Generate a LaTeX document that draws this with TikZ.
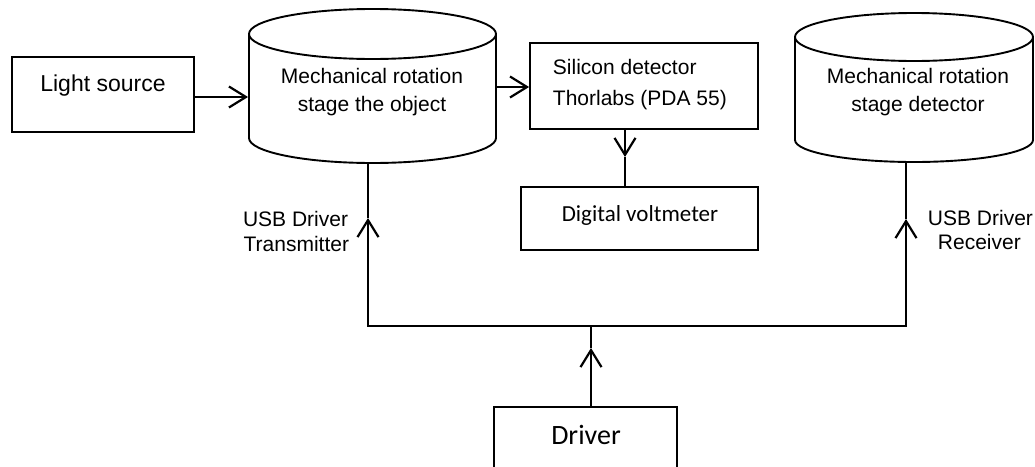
\documentclass[tikz,border=0pt]{standalone}
\usepackage{fontspec}
\setmainfont{Liberation Sans}
\newfontfamily\calib{Carlito}
\usetikzlibrary{arrows.meta,calc}
\begin{document}
\begin{tikzpicture}[x=1pt,y=-1pt,line width=1.9pt,
  box/.style={draw,line width=1.8pt,inner sep=0pt},
  ghost/.style={inner sep=0pt},
  lbl/.style={font=\fontsize{21}{25}\selectfont,inner sep=0pt},
  barb/.tip={Straight Barb[length=17pt,width=21pt,line width=2.2pt]},
  arr/.style={-barb}]
\useasboundingbox (0,0) rectangle (1035,466);
\clip (0,0) rectangle (1035,466);

% boxes
\node[box,minimum width=182pt,minimum height=75pt] (light) at (103,94.5) {};
\node[box,minimum width=228pt,minimum height=86pt] (sil) at (644,86) {};
\node[box,minimum width=237pt,minimum height=63pt] (volt) at (639.5,218.5) {};
\node[box,minimum width=183pt,minimum height=93pt] (driver) at (585.5,453.5) {};

% cylinders
\node[ghost,minimum width=247pt,minimum height=154pt] (cyl1) at (372.5,86) {};
\draw (249,34) -- (249,138) arc[start angle=180,end angle=360,x radius=123.5pt,y radius=25pt] -- (496,34);
\draw (372.5,34) ellipse [x radius=123.5pt,y radius=25pt];
\node[ghost,minimum width=238pt,minimum height=149pt] (cyl2) at (914,87.5) {};
\draw (795,37) -- (795,140) arc[start angle=180,end angle=360,x radius=119pt,y radius=22pt] -- (1033,37);
\draw (914,37) ellipse [x radius=119pt,y radius=24pt];

% texts
\node[lbl,anchor=base,font=\fontsize{23}{27}\selectfont] (lightT) at (103,91) {Light source};
\node[lbl,anchor=base] (c1a) at (372,83) {Mechanical rotation};
\node[lbl,anchor=base] (c1b) at (372,111) {stage the object};
\node[lbl,anchor=base] (c2a) at (918,83) {Mechanical rotation};
\node[lbl,anchor=base] (c2b) at (918,111) {stage detector};
\node[lbl,anchor=base west] (s1) at (552,74) {Silicon detector};
\node[lbl,anchor=base west] (s2) at (552,105) {Thorlabs (PDA 55)};
\node[anchor=base,inner sep=0pt,font=\calib\fontsize{23}{27}\selectfont] (voltT) at (640,221) {Digital voltmeter};
\node[anchor=base,inner sep=0pt,font=\calib\fontsize{28}{32}\selectfont] (driverT) at (586,444) {Driver};
\node[lbl,anchor=base east] (u1) at (349,226) {USB Driver};
\node[lbl,anchor=base east] (u2) at (350,251) {Transmitter};
\node[lbl,anchor=base west] (u3) at (927,225) {USB Driver};
\node[lbl,anchor=base west] (u4) at (937,249) {Receiver};

% connectors
\draw[arr] ([yshift=-2.5pt]light.east) -- ([yshift=-2.5pt]light.east -| cyl1.west);
\draw[arr] ([yshift=-1pt]cyl1.east) -- ([yshift=-1pt]cyl1.east -| sil.west);
\coordinate (sv) at (625,157);
\draw[arr] (sv |- sil.south) -- (sv);
\draw (sv) -- (sv |- volt.north);

\coordinate (t1) at (368,218);
\coordinate (t2) at (906,219);
\coordinate (busL) at (368,326);
\coordinate (busR) at (906,326);
\coordinate (tD) at (591,348);
\draw[barb-barb] (t1) -- (busL) -- (busR) -- (t2);
\draw (t1) -- (t1 |- cyl1.south);
\draw (t2) -- (t2 |- cyl2.south);
\draw[arr] (tD |- driver.north) -- (tD);
\draw (tD) -- (tD |- busL);
\end{tikzpicture}
\end{document}
